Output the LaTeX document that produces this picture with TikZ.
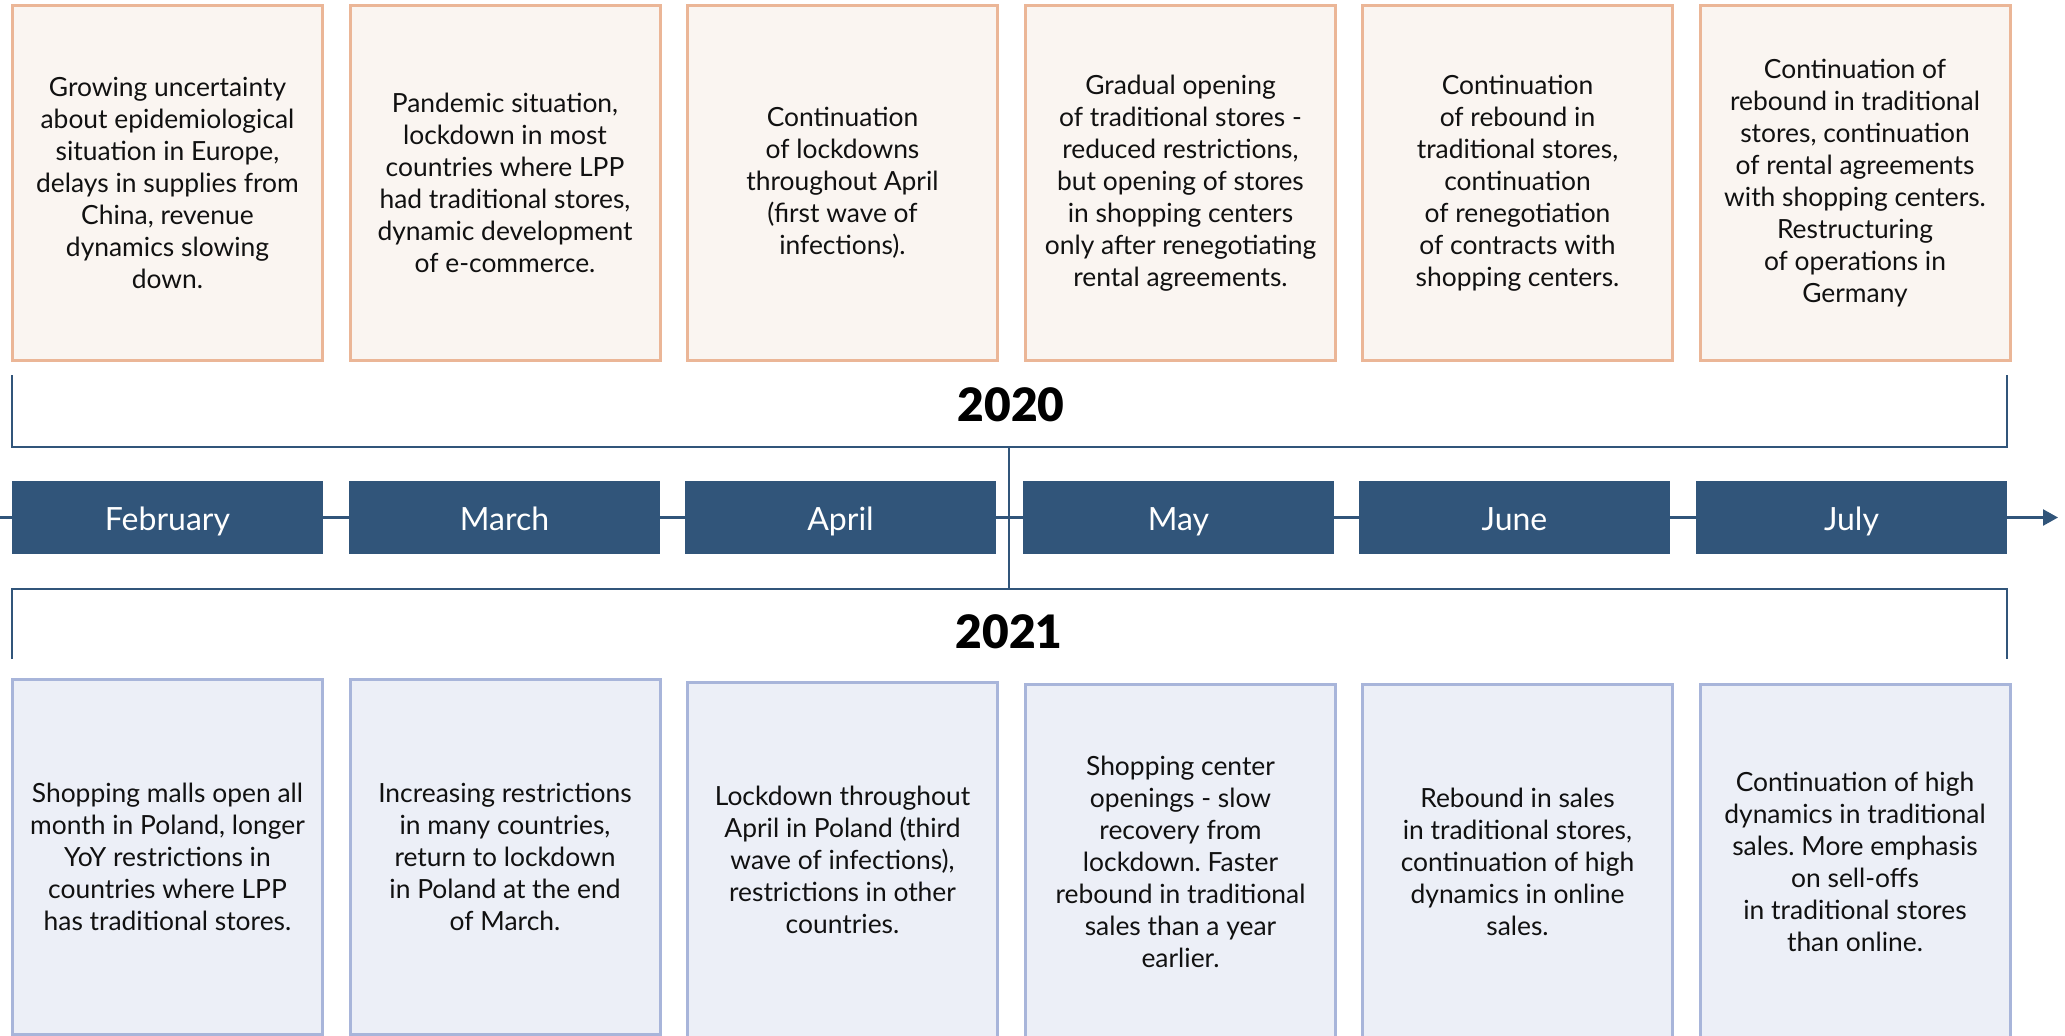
\documentclass[tikz,border=0pt]{standalone}
\usepackage{fontspec}
\setmainfont{Lato}
\newfontfamily\yearfont{Lato Black}
\usetikzlibrary{arrows.meta}
\frenchspacing

\definecolor{navy}{HTML}{31557A}
\definecolor{peach}{HTML}{EBB697}
\definecolor{peachfill}{HTML}{FAF5F1}
\definecolor{lilac}{HTML}{A8B5DA}
\definecolor{lilacfill}{HTML}{ECEFF7}
\definecolor{ink}{HTML}{111111}

\tikzset{
  note/.style={line width=1.5pt, minimum width=155pt, minimum height=177.5pt,
    inner sep=0pt, align=center, text=ink,
    font=\fontsize{13.2}{16}\selectfont},
  topbox/.style={note, draw=peach, fill=peachfill},
  lowbox/.style={note, draw=lilac, fill=lilacfill},
  monthbox/.style={fill=navy, minimum width=155.5pt, minimum height=36.5pt,
    inner sep=0pt, text height=14pt, text depth=1.5pt, text=white,
    font=\fontsize{16}{19}\selectfont},
  yearlabel/.style={font=\yearfont\fontsize{23}{26}\selectfont},
  axis/.style={draw=navy, line width=1.2pt},
  bracket/.style={draw=navy, line width=1pt}
}

\begin{document}
\begin{tikzpicture}[x=0.5pt,y=-0.5pt]
\useasboundingbox (0,0) rectangle (2065,1035);

\node [topbox] (t1) at (167.5,183) {Growing uncertainty\\about epidemiological\\situation in Europe,\\delays in supplies from\\China, revenue\\dynamics slowing\\down.};
\node [topbox] (t2) at (505,183) {Pandemic situation,\\lockdown in most\\countries where LPP\\had traditional stores,\\dynamic development\\of e-commerce.};
\node [topbox] (t3) at (842.5,183) {Continuation\\of lockdowns\\throughout April\\(first wave of\\infections).};
\node [topbox] (t4) at (1180.5,183) {Gradual opening\\of traditional stores -\\reduced restrictions,\\but opening of stores\\in shopping centers\\only after renegotiating\\rental agreements.};
\node [topbox] (t5) at (1517.5,183) {Continuation\\of rebound in\\traditional stores,\\continuation\\of renegotiation\\of contracts with\\shopping centers.};
\node [topbox] (t6) at (1855,183) {Continuation of\\rebound in traditional\\stores, continuation\\of rental agreements\\with shopping centers.\\Restructuring\\of operations in\\Germany};

\draw [bracket] (12,375) -- (12,447) -- (2007,447) -- (2007,375);
\node [yearlabel] (y2020) at (1011,405) {2020};

\node [monthbox] (feb) at (167.5,517.5) {February};
\node [monthbox] (mar) at (504.5,517.5) {March};
\node [monthbox] (apr) at (840.5,517.5) {April};
\node [monthbox] (may) at (1178.5,517.5) {May};
\node [monthbox] (jun) at (1514.5,517.5) {June};
\node [monthbox] (jul) at (1851.5,517.5) {July};

\coordinate (start) at (0,517.5);
\coordinate (end) at (2058,517.5);
\draw [axis] (start) -- (feb.west);
\draw [axis] (feb.east) -- (mar.west);
\draw [axis] (mar.east) -- (apr.west);
\draw [axis] (apr.east) -- (may.west);
\draw [axis] (may.east) -- (jun.west);
\draw [axis] (jun.east) -- (jul.west);
\draw [axis, -{Triangle[length=7.5pt,width=8pt]}] (jul.east) -- (end);

\draw [bracket] (1009,447) -- (1009,589);

\draw [bracket] (12,659) -- (12,589) -- (2007,589) -- (2007,659);
\node [yearlabel] (y2021) at (1009,632) {2021};

\node [lowbox] (b1) at (167.5,857) {Shopping malls open all\\month in Poland, longer\\YoY restrictions in\\countries where LPP\\has traditional stores.};
\node [lowbox] (b2) at (505,857) {Increasing restrictions\\in many countries,\\return to lockdown\\in Poland at the end\\of March.};
\node [lowbox] (b3) at (842.5,860) {Lockdown throughout\\April in Poland (third\\wave of infections),\\restrictions in other\\countries.};
\node [lowbox] (b4) at (1180.5,862) {Shopping center\\openings - slow\\recovery from\\lockdown. Faster\\rebound in traditional\\sales than a year\\earlier.};
\node [lowbox] (b5) at (1517.5,862) {Rebound in sales\\in traditional stores,\\continuation of high\\dynamics in online\\sales.};
\node [lowbox] (b6) at (1855,862) {Continuation of high\\dynamics in traditional\\sales. More emphasis\\on sell-offs\\in traditional stores\\than online.};
\end{tikzpicture}
\end{document}
